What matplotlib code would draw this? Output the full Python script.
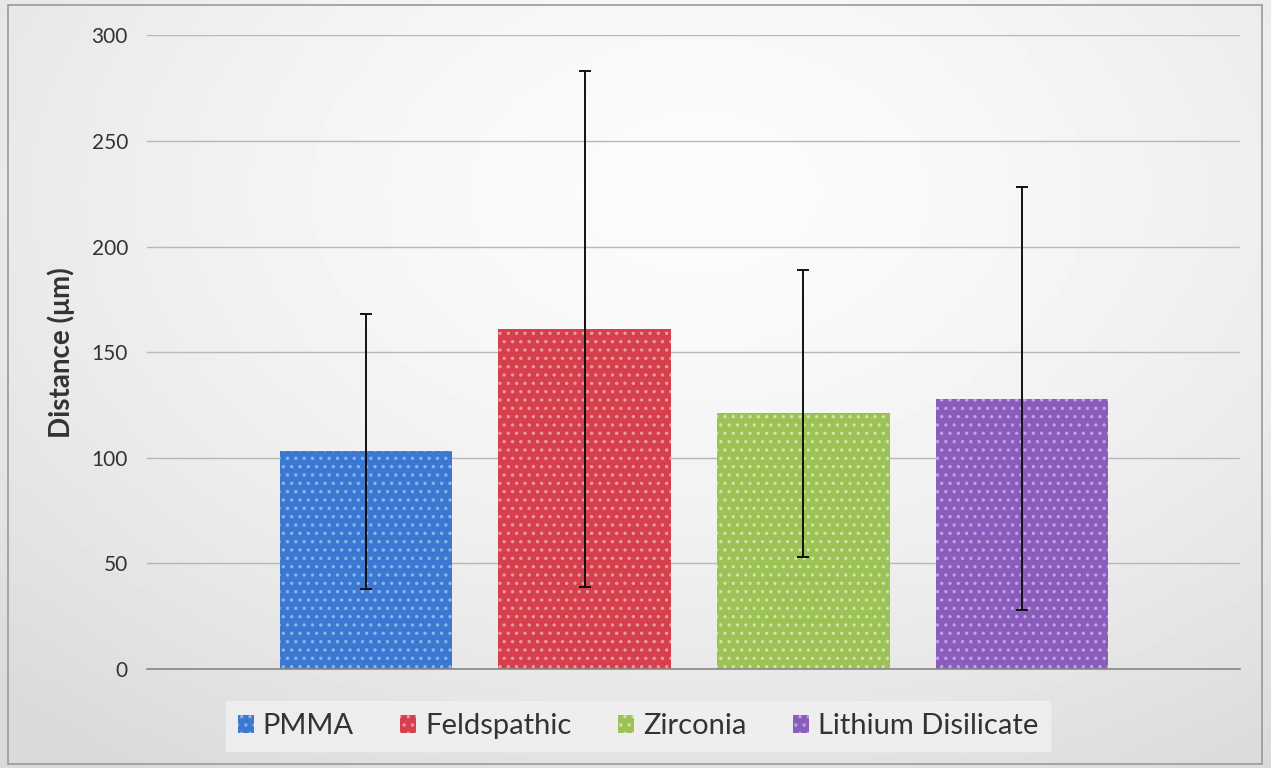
import numpy as np
from matplotlib import pyplot as plt
from matplotlib.patches import Rectangle

# values
materials = ["PMMA", "Feldspathic", "Zirconia", "Lithium Disilicate"]
means = [103, 161, 121, 128]
sds = [65, 122, 68, 100]
colors = ["#3b78d2", "#d63f4c", "#9cc154", "#8a5cbc"]
dots = ["#8fb4ec", "#ec9aa2", "#cfe4a8", "#bfa5de"]
yticks = [0, 50, 100, 150, 200, 250, 300]

plt.rcParams["font.family"] = ["Lato", "DejaVu Sans"]
plt.rcParams["hatch.linewidth"] = 1.2

fig = plt.figure(figsize=(12.71, 7.68), dpi=100)

# grey background, lighter towards the middle top
bg = fig.add_axes([0, 0, 1, 1], zorder=-10)
yy, xx = np.mgrid[0:1:200j, 0:1:330j]
r = np.sqrt(((xx - 0.55) / 0.8) ** 2 + ((yy - 0.25) / 0.9) ** 2)
bg.imshow(0.985 - 0.13 * np.clip(r, 0, 1) ** 1.6, cmap="gray", vmin=0, vmax=1,
          aspect="auto", extent=[0, 1, 1, 0])
bg.set_axis_off()
fig.patches.append(Rectangle((0.006, 0.005), 0.987, 0.988, transform=fig.transFigure,
                             fill=False, edgecolor="#9a9a9a", lw=1.2))

ax = fig.add_axes([0.116, 0.129, 0.86, 0.825])
ax.patch.set_alpha(0)
x = np.arange(1, len(materials) + 1)
for i in range(len(materials)):
    ax.bar(x[i], means[i], width=0.79, color=colors[i], edgecolor=dots[i],
           linewidth=0, hatch="..", label=materials[i], zorder=2)
ax.errorbar(x, means, yerr=sds, fmt="none", ecolor="#111111", elinewidth=1.4,
            capsize=4.5, capthick=1.4, zorder=3)

ax.set_xlim(0, 5)
ax.set_ylim(0, 300)
ax.set_yticks(yticks)
ax.set_xticks([])
ax.tick_params(axis="y", length=0, labelsize=15, pad=14, labelcolor="#333333")
ax.grid(axis="y", color="#b8b8b8", lw=1, zorder=0)
for s in ["left", "right", "top"]:
    ax.spines[s].set_visible(False)
ax.spines["bottom"].set_color("#888888")
ax.spines["bottom"].set_linewidth(1.2)
ax.set_ylabel("Distance (μm)", fontsize=20, fontweight="bold", labelpad=12,
              color="#333333")

leg = fig.legend(loc="center", bbox_to_anchor=(0.502, 0.0545), ncol=4, fontsize=21,
                 frameon=True, fancybox=False, handlelength=0.55, handleheight=0.55,
                 handletextpad=0.3, columnspacing=1.6, borderpad=0.4, borderaxespad=0)
leg.get_frame().set_facecolor("#f1f1f1")
leg.get_frame().set_edgecolor("#f1f1f1")
for t in leg.get_texts():
    t.set_color("#333333")

fig.savefig("out.png", dpi=100)
